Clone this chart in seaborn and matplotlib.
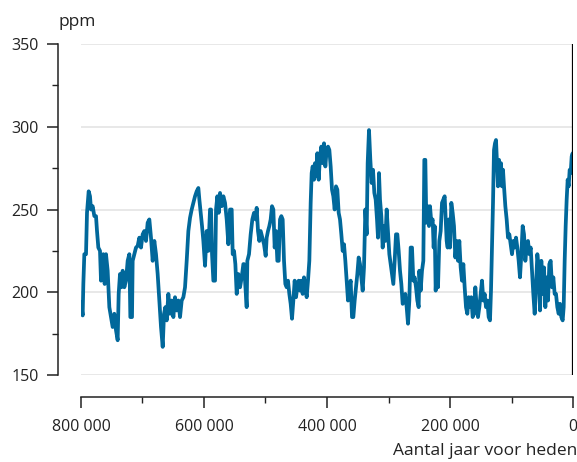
import matplotlib
matplotlib.use("Agg")
import matplotlib.pyplot as plt
import seaborn as sns
import pandas as pd
from matplotlib.ticker import MultipleLocator

# CO2 in ijskern (EPICA)
jaren = [
    800000, 797290, 796200, 794580, 791870, 790240, 787530, 785370, 783740, 781030,
    778320, 775610, 773980, 771820, 769110, 767480, 765850, 763690, 761520, 759350,
    756640, 753930, 751220, 748510, 745800, 743090, 740380, 738750, 736590, 734420,
    732250, 729540, 726830, 724120, 721410, 719780, 717070, 715990, 713280, 710570,
    707860, 705150, 702440, 699730, 697020, 694310, 691600, 688890, 686180, 683470,
    680760, 678050, 675340, 672630, 669920,
    667160, 665000, 662830, 660660, 657950, 655240, 652530, 649820, 647110, 644400,
    641690, 638980, 636270, 633560, 630850, 628140, 625430, 622720, 620010, 617300,
    614590, 611880, 609170, 607540, 605380, 603210, 601040, 598330, 595620, 592910,
    590200, 588570, 586950, 584780, 582070, 580440, 578280, 576110, 573940, 571230,
    568520, 565810, 563100, 560390, 557680, 554970, 553340, 551180, 549010, 546840,
    544130, 541420, 538710, 536000,
    534950, 532240, 530610, 529530, 526820, 524110, 521400, 518690, 515980, 514350,
    512190, 510020, 507850, 505140, 502430, 499720, 498090, 495930, 493760, 491590,
    489420, 487250, 485090, 482920, 480750, 478580, 476410, 474250, 472080, 469910,
    467740, 465580, 463410, 461240, 459070, 456900, 454730, 452570, 450400, 448230,
    446060, 443890, 441730, 439560, 437390, 435220, 433050, 430890, 428720, 426550,
    424930, 423300, 421130, 419500, 417880, 415710, 413540, 411380, 409210, 407040,
    404870, 402700, 400540,
    398370, 396200, 394030, 391870, 389700, 387530, 385360, 383190, 381030, 378860,
    376690, 374520, 372350, 370190, 368020, 365850, 363680, 361510, 359350, 357180,
    355010, 352840, 350670, 348510, 346340, 344170, 342000, 339830, 337670, 335500,
    333870, 331700, 329540, 327370, 325200, 323030, 320860, 318700, 317070, 315450,
    313820, 311650, 309480, 307310, 305150, 302980, 300810, 298640, 296470, 294310,
    292140, 289970, 287800, 285630, 283470, 281300, 279130, 276960, 274790, 272630,
    270460, 268290, 266120, 263950,
    261790, 259620, 257450, 255290, 253120, 250950, 249870, 247700, 245530, 243360,
    241740, 240110, 238480, 236320, 234150, 232520, 230360, 228190, 226560, 224940,
    223310, 221140, 219520, 217350, 215180, 213010, 210850, 208680, 207050, 205420,
    203800, 202170, 200000, 197830, 195670, 193500, 191330, 189160, 186990, 184830,
    182660, 180490, 178320, 176150, 173990, 171820, 169650, 167480, 165310, 163150,
    160980, 158810, 156640, 154470, 152310, 150140, 147970, 145800, 143630, 141470,
    139300, 137130, 134960, 133340, 131710, 130080, 128460, 126830,
    125200, 123570, 121950, 120320, 118700, 117070, 115440, 113820, 112190, 110020,
    107860, 105690, 103520, 101350, 99180, 97020, 94850, 92680, 90510, 88340,
    86180, 84010, 81840, 79670, 77500, 75340, 73170, 71000, 68830, 66660,
    64500, 62330, 60160, 57990, 55820, 53660, 51490, 49320, 47150, 44980,
    42820, 40650, 38480, 36310, 34140, 31980, 29810, 27640, 25470, 23300,
    21140, 18970, 16800, 15170, 13540, 11920, 10290, 8660, 7040, 5410,
    3790, 2160, 530, 0,
]

ppm = [
    194, 186, 205, 223, 223, 248, 261, 258, 250, 252,
    246, 246, 237, 227, 225, 207, 215, 223, 205, 223,
    213, 191, 185, 179, 187, 177, 171, 199, 211, 203,
    213, 203, 207, 219, 223, 185, 185, 219, 223, 227,
    228, 233, 227, 235, 237, 231, 242, 244, 233, 219,
    231, 223, 211, 195, 179,
    167, 187, 191, 183, 199, 187, 195, 185, 197, 189,
    195, 185, 195, 197, 203, 219, 237, 245, 250, 254,
    258, 261, 263, 256, 248, 240, 231, 216, 237, 225,
    250, 250, 223, 207, 207, 250, 258, 248, 260, 252,
    258, 254, 244, 229, 250, 250, 223, 225, 217, 199,
    211, 203, 209, 217,
    217, 201, 191, 219, 223, 235, 244, 248, 244, 251,
    237, 231, 237, 233, 229, 222, 233, 237, 240, 244,
    252, 250, 227, 237, 219, 219, 244, 246, 244, 219,
    205, 203, 207, 199, 193, 184, 195, 207, 197, 203,
    207, 201, 207, 199, 209, 203, 197, 207, 219, 254,
    272, 276, 268, 278, 270, 284, 268, 282, 288, 278,
    290, 276, 286,
    288, 286, 276, 262, 258, 250, 264, 262, 248, 244,
    235, 225, 229, 219, 207, 195, 203, 207, 185, 185,
    195, 203, 211, 221, 217, 209, 201, 215, 250, 235,
    278, 298, 280, 266, 274, 260, 256, 244, 233, 272,
    256, 246, 227, 240, 231, 250, 237, 223, 217, 211,
    205, 219, 235, 235, 225, 213, 205, 193, 195, 199,
    191, 181, 195, 227,
    227, 207, 209, 203, 195, 191, 213, 201, 213, 219,
    280, 280, 242, 252, 240, 252, 242, 244, 227, 240,
    201, 219, 203, 231, 237, 254, 256, 258, 244, 231,
    227, 244, 227, 254, 248, 240, 221, 231, 219, 231,
    215, 207, 217, 203, 191, 187, 197, 191, 197, 185,
    187, 203, 191, 185, 191, 199, 207, 195, 199, 191,
    195, 185, 183, 201, 227, 254, 286, 290,
    292, 278, 264, 280, 266, 278, 264, 274, 264, 252,
    244, 233, 235, 229, 223, 231, 227, 233, 227, 219,
    209, 223, 240, 235, 219, 227, 231, 223, 227, 213,
    199, 187, 203, 223, 215, 189, 219, 199, 215, 191,
    209, 195, 217, 219, 203, 209, 199, 199, 191, 187,
    193, 185, 183, 191, 219, 240, 256, 268, 264, 274,
    272, 282, 284, 280,
]

y_ticks = [150, 200, 250, 300, 350]
x_ticks = [800000, 600000, 400000, 200000, 0]
x_tick_labels = ["800 000", "600 000", "400 000", "200 000", "0"]

df = pd.DataFrame({"jaar": jaren, "ppm": ppm})

blauw = "#01689B"

sns.set_style("white")
plt.rcParams["font.family"] = ["Open Sans", "DejaVu Sans"]

fig = plt.figure(figsize=(5.77, 4.62), dpi=100)
ax = fig.add_axes([81 / 577, 1 - 375 / 462, 492 / 577, 331 / 462])

sns.lineplot(data=df, x="jaar", y="ppm", ax=ax, color=blauw, linewidth=2.7,
             estimator=None, sort=False)

# verticale lijn bij heden
ax.axvline(0, color="black", linewidth=1.6, zorder=3)

ax.set_xlim(800000, 0)
ax.set_ylim(150, 350)
ax.set_yticks(y_ticks)
ax.set_xticks(x_ticks)
ax.set_xticklabels(x_tick_labels)
ax.yaxis.set_minor_locator(MultipleLocator(25))
ax.xaxis.set_minor_locator(MultipleLocator(100000))

ax.grid(axis="y", color="#e2e2e2", linewidth=1.1)
ax.set_axisbelow(True)

for s in ["top", "right"]:
    ax.spines[s].set_visible(False)
ax.spines["left"].set_position(("outward", 16.5))
ax.spines["bottom"].set_position(("outward", 16))
for s in ["left", "bottom"]:
    ax.spines[s].set_color("#222222")
    ax.spines[s].set_linewidth(1.1)

ax.tick_params(axis="both", which="major", direction="out", length=8, width=1.1,
               color="#222222", labelsize=11.5, labelcolor="#222222")
ax.tick_params(axis="both", which="minor", direction="out", length=4, width=1.0,
               color="#222222")
ax.tick_params(axis="y", which="major", pad=6)
ax.tick_params(axis="x", which="major", pad=8)
ax.tick_params(left=True, bottom=True)
ax.tick_params(axis="both", which="minor", left=True, bottom=True)

ax.set_xlabel("")
ax.set_ylabel("")

fig.text(59 / 577, 1 - 22 / 462, "ppm", fontsize=12.5, color="#222222",
         ha="left", va="center")
fig.text(1.0, 1 - 455 / 462, "Aantal jaar voor heden", fontsize=12.5,
         color="#222222", ha="right", va="baseline")

fig.savefig("out.png", dpi=100)
